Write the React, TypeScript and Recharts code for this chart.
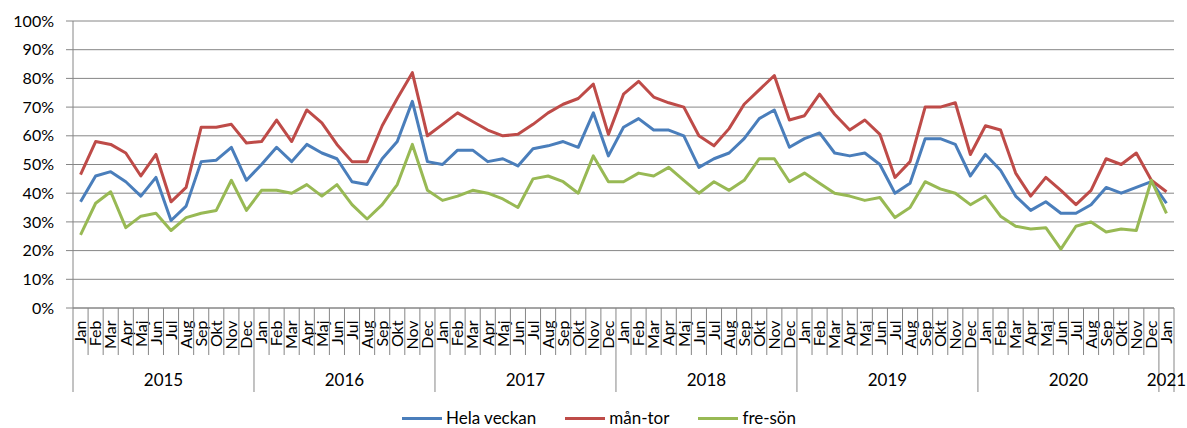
import { CartesianGrid, Legend, Line, LineChart, XAxis, YAxis } from "recharts";

const YEARS = [2015, 2016, 2017, 2018, 2019, 2020, 2021];
const MONTHS = ["Jan", "Feb", "Mar", "Apr", "Maj", "Jun", "Jul", "Aug", "Sep", "Okt", "Nov", "Dec"];
// the last year only has January
const MONTHS_PER_YEAR = [12, 12, 12, 12, 12, 12, 1];

const helaVeckan = [
  37, 46, 47.5, 44, 39, 45.5, 30.5, 35.5, 51, 51.5, 56, 44.5,
  50, 56, 51, 57, 54, 52, 44, 43, 52, 58, 72, 51,
  50, 55, 55, 51, 52, 49.5, 55.5, 56.5, 58, 56, 68, 53,
  63, 66, 62, 62, 60, 49, 52, 54, 59, 66, 69, 56,
  59, 61, 54, 53, 54, 50, 40, 43.5, 59, 59, 57, 46,
  53.5, 48, 39, 34, 37, 33, 33, 36, 42, 40, 42, 44,
  36.5,
];

const manTor = [
  46.5, 58, 57, 54, 46, 53.5, 37, 42, 63, 63, 64, 57.5,
  58, 65.5, 58, 69, 64.5, 57, 51, 51, 63.5, 73, 82, 60,
  64, 68, 65, 62, 60, 60.5, 64, 68, 71, 73, 78, 60.5,
  74.5, 79, 73.5, 71.5, 70, 60, 56.5, 62.5, 71, 76, 81, 65.5,
  67, 74.5, 67.5, 62, 65.5, 60.5, 45.5, 51, 70, 70, 71.5, 53.5,
  63.5, 62, 47, 39, 45.5, 41, 36, 41, 52, 50, 54, 44.5,
  40.5,
];

const freSon = [
  25.5, 36.5, 40.5, 28, 32, 33, 27, 31.5, 33, 34, 44.5, 34,
  41, 41, 40, 43, 39, 43, 36, 31, 36, 43, 57, 41,
  37.5, 39, 41, 40, 38, 35, 45, 46, 44, 40, 53, 44,
  44, 47, 46, 49, 44.5, 40, 44, 41, 44.5, 52, 52, 44,
  47, 43.5, 40, 39, 37.5, 38.5, 31.5, 35, 44, 41.5, 40, 36,
  39, 32, 28.5, 27.5, 28, 20.5, 28.5, 30, 26.5, 27.5, 27, 44.5,
  33,
];

const Y_TICKS = [0, 10, 20, 30, 40, 50, 60, 70, 80, 90, 100];

const rows = YEARS.flatMap((year, yi) =>
  MONTHS.slice(0, MONTHS_PER_YEAR[yi]).map((m) => ({ year, month: m, key: `${year}-${m}` })),
).map((r, i) => ({ ...r, hela: helaVeckan[i], man: manTor[i], fre: freSon[i] }));

const W = 1187;
const H = 428;
const MARGIN = { top: 21, right: 13, left: 0, bottom: 0 };
const Y_W = 73;
// line charts use a point scale, so pad half a category on each side (excel "between tick marks")
const BAND = (W - Y_W - MARGIN.right) / rows.length;

const GRID = "#868686";
const FONT = "Lato, 'Liberation Sans', sans-serif";
const BLUE = "#4A7EBB";
const RED = "#BE4B48";
const GREEN = "#98B954";

function MonthTick(props: any) {
  const { x, y, index } = props;
  const row = rows[index];
  if (!row) return null;
  const left = x - BAND / 2;
  const isJan = row.month === "Jan";
  const isLast = index === rows.length - 1;
  const n = MONTHS_PER_YEAR[YEARS.indexOf(row.year)];
  return (
    <g>
      <line x1={left} x2={left} y1={y} y2={y + (isJan ? 84 : 47)} stroke={GRID} />
      {isLast && (
        <line x1={x + BAND / 2} x2={x + BAND / 2} y1={y} y2={y + 84} stroke={GRID} />
      )}
      <text
        x={x}
        y={y + 12.5}
        dy="0.36em"
        transform={`rotate(-90 ${x} ${y + 12.5})`}
        textAnchor="end"
        fontFamily={FONT}
        fontSize={16}
        fill="#000"
      >
        {row.month}
      </text>
      {isJan && (
        <text
          x={left + (n * BAND) / 2}
          y={y + 78}
          textAnchor="middle"
          fontFamily={FONT}
          fontSize={17}
          fill="#000"
        >
          {row.year}
        </text>
      )}
    </g>
  );
}

const legendItems = [
  { name: "Hela veckan", color: BLUE },
  { name: "mån-tor", color: RED },
  { name: "fre-sön", color: GREEN },
];

function LegendContent() {
  return (
    <div
      style={{
        display: "flex",
        justifyContent: "center",
        height: 20,
        lineHeight: "20px",
        paddingLeft: 24,
        fontFamily: FONT,
        fontSize: 17,
        color: "#000",
      }}
    >
      {legendItems.map((it, i) => (
        <div key={it.name} style={{ display: "flex", alignItems: "center", marginLeft: i ? 29 : 0 }}>
          <span style={{ display: "inline-block", width: 40, height: 3, background: it.color, marginRight: 4 }} />
          <span>{it.name}</span>
        </div>
      ))}
    </div>
  );
}

export default function App() {
  return (
    <div style={{ position: "absolute", left: 0, top: 0, width: W, height: H, background: "#fff" }}>
      <LineChart width={W} height={H} data={rows} margin={MARGIN}>
        <CartesianGrid vertical={false} stroke={GRID} />
        <XAxis
          dataKey="key"
          interval={0}
          height={100}
          padding={{ left: BAND / 2, right: BAND / 2 }}
          tickLine={false}
          tickSize={0}
          tickMargin={0}
          axisLine={{ stroke: GRID }}
          tick={<MonthTick />}
        />
        <YAxis
          width={Y_W}
          domain={[0, 100]}
          ticks={Y_TICKS}
          interval={0}
          tickFormatter={(v: number) => `${v}%`}
          tickSize={7}
          tickMargin={12}
          tickLine={{ stroke: GRID }}
          axisLine={{ stroke: GRID }}
          tick={{ fontFamily: FONT, fontSize: 16, fill: "#000" }}
        />
        <Legend verticalAlign="bottom" content={<LegendContent />} />
        <Line dataKey="hela" name="Hela veckan" stroke={BLUE} strokeWidth={3} dot={false} isAnimationActive={false} strokeLinejoin="round" />
        <Line dataKey="man" name="mån-tor" stroke={RED} strokeWidth={3} dot={false} isAnimationActive={false} strokeLinejoin="round" />
        <Line dataKey="fre" name="fre-sön" stroke={GREEN} strokeWidth={3} dot={false} isAnimationActive={false} strokeLinejoin="round" />
      </LineChart>
    </div>
  );
}
